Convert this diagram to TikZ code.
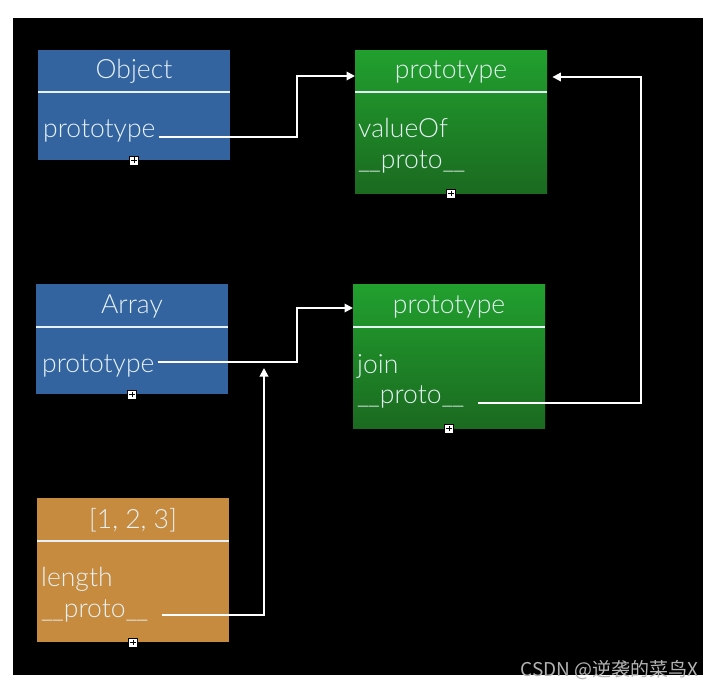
\documentclass[tikz,border=0pt]{standalone}
\usepackage{fontspec}
\setmainfont{Lato Light}
\newfontfamily\cjk{Noto Sans CJK SC}
\usetikzlibrary{arrows.meta,calc}
\definecolor{objblue}{HTML}{3464A0}
\definecolor{gtop}{HTML}{21A02E}
\definecolor{gbot}{HTML}{1B6A20}
\definecolor{orng}{HTML}{C68B3F}
\definecolor{txtw}{HTML}{E6F2F6}
\definecolor{wmgray}{HTML}{B4B4B4}
\newcommand{\dunder}{\_\kern-1.2pt\_}
\begin{document}
\begin{tikzpicture}[x=1pt,y=-1pt,
  bluebox/.style={fill=objblue,draw=none,inner sep=0,anchor=north west,minimum width=192pt},
  greenbox/.style={top color=gtop,bottom color=gbot,draw=none,inner sep=0,anchor=north west,minimum width=192pt},
  orangebox/.style={fill=orng,draw=none,inner sep=0,anchor=north west,minimum width=192pt},
  lbl/.style={anchor=base west,inner sep=0,text=txtw,font=\fontsize{26.5}{30}\selectfont},
  ttl/.style={anchor=base,inner sep=0,text=txtw,font=\fontsize{26.5}{30}\selectfont},
  sepline/.style={draw=txtw,line width=1.6pt},
  conn/.style={draw=white,line width=1.8pt},
  tipped/.style={-{Triangle[length=8.5pt,width=8.5pt]}},
  plusbox/.style={draw=black,fill=white,minimum size=9pt,inner sep=0,line width=0.6pt,
    path picture={\draw[black,line width=0.9pt]
      ([yshift=-1.6pt]path picture bounding box.north) -- ([yshift=1.6pt]path picture bounding box.south)
      ([xshift=1.6pt]path picture bounding box.west) -- ([xshift=-1.6pt]path picture bounding box.east);}}
]
\useasboundingbox (0,0) rectangle (715,690);
\fill[white] (0,0) rectangle (715,690);
\fill[black] (13,18) rectangle (703,675);

% Object
\node[bluebox,minimum height=110pt] (obj) at (38,50) {};
\draw[sepline] (38,92) -- (230,92);
\node[ttl] (objt) at (134,79) {Object};
\node[lbl] (objp) at (43,138) {prototype};
\node[plusbox] (objplus) at (obj.south) {};

% Object prototype (green 1)
\node[greenbox,minimum height=143pt] (op) at (355,50) {};
\draw[sepline] (355,92) -- (547,92);
\node[ttl] (opt) at (451,79) {prototype};
\node[lbl] (opv) at (358,138) {valueOf};
\node[lbl] (opp) at (358,168) {\dunder proto\dunder};
\node[plusbox] (opplus) at (op.south) {};

% Array
\node[bluebox,minimum height=110pt] (arr) at (36,284) {};
\draw[sepline] (36,327) -- (228,327);
\node[ttl] (arrt) at (132,313) {Array};
\node[lbl] (arrp) at (42,372) {prototype};
\node[plusbox] (arrplus) at (arr.south) {};

% Array prototype (green 2)
\node[greenbox,minimum height=144pt] (ap) at (353,284) {};
\draw[sepline] (353,327) -- (545,327);
\node[ttl] (apt) at (449,313) {prototype};
\node[lbl] (apj) at (357,373) {join};
\node[lbl] (app) at (357,403) {\dunder proto\dunder};
\node[plusbox] (applus) at (ap.south) {};

% [1, 2, 3]
\node[orangebox,minimum height=144pt] (inst) at (37,498) {};
\draw[sepline] (37,541) -- (229,541);
\node[ttl] (instt) at (133,528) {[1, 2, 3]};
\node[lbl] (instl) at (41,586) {length};
\node[lbl] (instp) at (41,617) {\dunder proto\dunder};
\node[plusbox] (instplus) at (inst.south) {};

% connectors
\coordinate (objs) at ($(objp.base east)+(3,-1)$);
\draw[conn,tipped] (objs) -- (297,137) -- (297,76) -- (op.west |- 0,76);
\coordinate (arrs) at ($(arrp.base east)+(3,-10)$);
\draw[conn,tipped] (arrs) -- (297,362) -- (297,308) -- (ap.west |- 0,308);
\coordinate (apps) at ($(app.base east)+(14,0)$);
\coordinate (optip) at ($(op.east |- 0,77)+(5,0)$);
\draw[conn,tipped] (apps) -- (641,403) -- (641,77) -- (optip);
\coordinate (insts) at ($(instp.base east)+(14,-2)$);
\coordinate (arrtip) at (264,368);
\draw[conn,tipped] (insts) -- (264,615) -- (arrtip);

% watermark
\node[anchor=base east,inner sep=0,text=wmgray,font=\cjk\fontsize{19}{22}\selectfont] (wm) at (699,676) {CSDN @逆袭的菜鸟X};
\end{tikzpicture}
\end{document}
